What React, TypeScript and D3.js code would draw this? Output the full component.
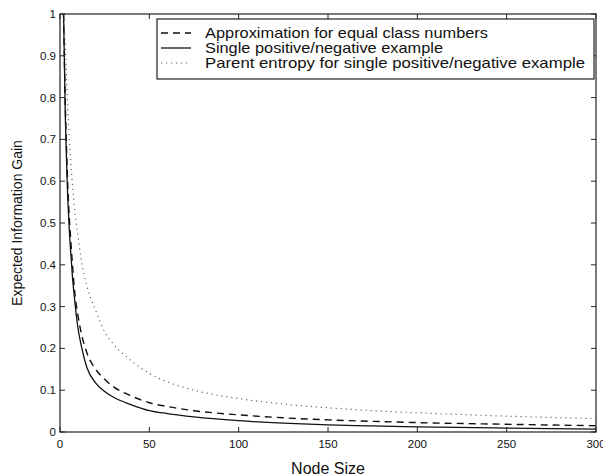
import React from "react";
import * as d3 from "d3";

const nodeSizes = [2, 3, 4, 5, 6, 7, 8, 10, 12, 15, 20, 25, 30, 40, 50, 60, 75, 100, 125, 150, 175, 200, 250, 300];
const approxEqual = [1, 0.78, 0.63, 0.53, 0.46, 0.4, 0.345, 0.28, 0.235, 0.19, 0.15, 0.126, 0.108, 0.086, 0.07, 0.061, 0.051, 0.041, 0.034, 0.029, 0.0255, 0.0225, 0.0185, 0.015];
const singleExample = [1, 0.75, 0.6, 0.5, 0.43, 0.37, 0.325, 0.25, 0.205, 0.155, 0.117, 0.097, 0.083, 0.065, 0.051, 0.044, 0.036, 0.027, 0.021, 0.017, 0.0145, 0.0125, 0.0095, 0.007];
const parentEntropy = [1, 0.92, 0.81, 0.72, 0.65, 0.59, 0.54, 0.47, 0.41, 0.35, 0.29, 0.24, 0.21, 0.17, 0.14, 0.12, 0.1, 0.08, 0.067, 0.058, 0.051, 0.046, 0.038, 0.032];

const xTicks = [0, 50, 100, 150, 200, 250, 300];
const yTicks = [0, 0.1, 0.2, 0.3, 0.4, 0.5, 0.6, 0.7, 0.8, 0.9, 1];
const legendLabels = [
  "Approximation for equal class numbers",
  "Single positive/negative example",
  "Parent entropy for single positive/negative example",
];
const legendTextWidths = [283, 238, 380];

const W = 603, H = 476;
const L = 60, R = 596, T = 14, B = 432;
const FONT = "'Liberation Sans', Arial, Helvetica, sans-serif";

export default function App() {
  const x = d3.scaleLinear().domain([0, 300]).range([L, R]);
  const y = d3.scaleLinear().domain([0, 1]).range([B, T]);
  const line = (vals: number[]) =>
    d3
      .line<number>()
      .x((_, i) => x(nodeSizes[i]))
      .y((v) => y(v))
      .curve(d3.curveMonotoneX)(vals) || "";

  const series = [
    { vals: approxEqual, dash: "7,5", color: "#111", w: 1.4 },
    { vals: singleExample, dash: undefined, color: "#111", w: 1.3 },
    { vals: parentEntropy, dash: "1.2,3.8", color: "#666", w: 1.2 },
  ];
  const tickLen = 5;
  const ink = "#222";

  return (
    <svg width={W} height={H} style={{ position: "absolute", left: 0, top: 0, background: "#fff" }} fontFamily={FONT}>
      <rect x={0} y={0} width={W} height={H} fill="#fff" />
      {series.map((s, i) => (
        <path key={i} d={line(s.vals)} fill="none" stroke={s.color} strokeWidth={s.w} strokeDasharray={s.dash} />
      ))}
      <rect x={L} y={T} width={R - L} height={B - T} fill="none" stroke={ink} strokeWidth={1.2} />
      {xTicks.map((t) => (
        <g key={"x" + t}>
          <line x1={x(t)} x2={x(t)} y1={B} y2={B - tickLen} stroke={ink} />
          <line x1={x(t)} x2={x(t)} y1={T} y2={T + tickLen} stroke={ink} />
          <text x={x(t)} y={448} fontSize={11.5} textAnchor="middle" fill="#111">{t}</text>
        </g>
      ))}
      {yTicks.map((t) => (
        <g key={"y" + t}>
          <line x1={L} x2={L + tickLen} y1={y(t)} y2={y(t)} stroke={ink} />
          <line x1={R} x2={R - tickLen} y1={y(t)} y2={y(t)} stroke={ink} />
          <text x={L - 4} y={y(t) + 4} fontSize={11.5} textAnchor="end" fill="#111">{t}</text>
        </g>
      ))}
      <text x={(L + R) / 2} y={474} fontSize={16} textAnchor="middle" fill="#111">Node Size</text>
      <text transform={`translate(22,${(T + B) / 2}) rotate(-90)`} fontSize={14} textAnchor="middle" fill="#111">
        Expected Information Gain
      </text>
      <g>
        <rect x={157} y={19} width={437} height={60} fill="#fff" stroke={ink} strokeWidth={1.2} />
        {legendLabels.map((lab, i) => {
          const cy = 33 + i * 15;
          const s = series[i];
          return (
            <g key={lab}>
              <line x1={161} x2={191} y1={cy} y2={cy} stroke={s.color} strokeWidth={s.w} strokeDasharray={s.dash} />
              <text
                x={205}
                y={cy + 5}
                fontSize={14.5}
                fill="#111"
                textLength={legendTextWidths[i]}
                lengthAdjust="spacingAndGlyphs"
              >
                {lab}
              </text>
            </g>
          );
        })}
      </g>
    </svg>
  );
}
